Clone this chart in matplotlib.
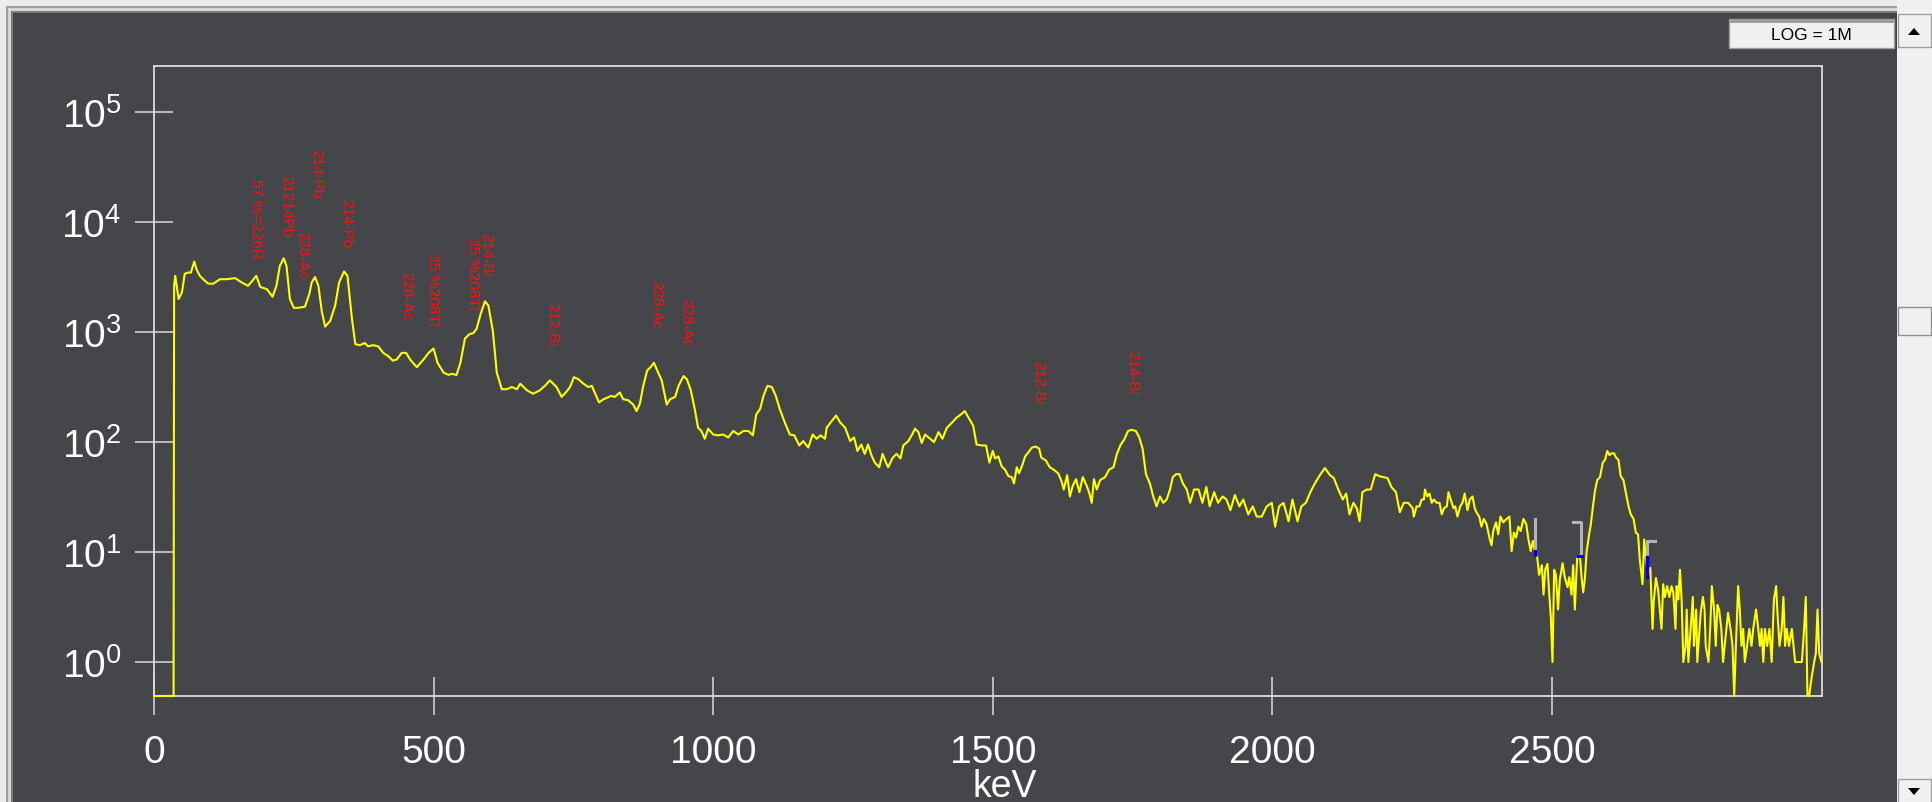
import numpy as np
import matplotlib
matplotlib.use('Agg')
import matplotlib.pyplot as plt
from matplotlib.patches import Rectangle, Polygon
from matplotlib.ticker import FixedLocator, FixedFormatter, NullLocator

plt.rcParams['font.family'] = ['Liberation Sans Narrow', 'Liberation Sans', 'DejaVu Sans']

# ---------------- data ----------------
energy_a = [0, 35, 36, 38, 44, 50, 55, 61, 66, 72, 76, 82, 88, 97, 106, 118, 130, 145, 157, 168,
            175, 183, 190, 202, 212, 219, 225, 232, 237, 243, 250, 258, 270, 278, 282, 288, 294, 300, 306, 315,
            324, 331, 340, 346, 354, 360, 368, 377, 383, 392, 401, 410, 419, 427, 434, 443, 451, 458, 470, 482,
            491, 500, 507, 518, 527, 532, 541, 548, 556, 564, 571, 577, 584, 592, 598, 606, 613, 622, 631, 640,
            649, 655, 667, 678, 690, 699, 708, 720, 729, 738]
counts_a = [0, 0, 2630, 3240, 1995, 2290, 3390, 3470, 3470, 4370, 3720, 3240, 3020, 2750, 2750, 3020, 3020, 3090, 2820, 2630,
            2880, 3240, 2570, 2450, 2090, 2630, 3980, 4680, 3980, 1995, 1660, 1660, 1700, 2240, 2820, 3160, 2630, 1550, 1120, 1260,
            1740, 2820, 3550, 3240, 1320, 776, 759, 794, 741, 759, 741, 646, 603, 550, 562, 646, 646, 562, 479, 562,
            646, 708, 525, 427, 407, 417, 407, 525, 871, 955, 977, 1070, 1450, 1905, 1740, 1023, 427, 302, 302, 316,
            302, 339, 295, 275, 295, 324, 363, 316, 257, 288]

energy_b = [744, 751, 759, 768, 777, 783, 789, 796, 804, 809, 818, 824, 833, 839, 848, 857, 863, 869, 875, 882,
            888, 894, 900, 908, 917, 923, 932, 938, 947, 953, 960, 967, 973, 979, 985, 991, 1000, 1009, 1018, 1027,
            1036, 1045, 1054, 1063, 1071, 1077, 1084, 1090, 1097, 1105, 1112, 1119, 1128, 1137, 1145, 1154, 1161, 1170, 1178, 1185,
            1192, 1200, 1203, 1212, 1220, 1227, 1236, 1245, 1252, 1258, 1265, 1271, 1277, 1283, 1289, 1297, 1303, 1309, 1313, 1321,
            1328, 1335, 1340, 1349, 1355, 1361, 1367, 1373, 1379, 1388, 1395, 1403, 1410, 1418, 1426, 1435, 1443, 1450, 1458, 1465,
            1471, 1480, 1488, 1494]
counts_b = [316, 389, 372, 339, 316, 324, 275, 229, 245, 251, 263, 257, 282, 245, 240, 219, 191, 224, 324, 447,
            479, 525, 447, 363, 219, 245, 257, 324, 398, 372, 295, 200, 135, 126, 107, 132, 117, 115, 117, 110,
            126, 117, 126, 126, 115, 178, 200, 263, 324, 316, 263, 200, 151, 117, 115, 93, 102, 89, 117, 107,
            115, 107, 135, 155, 174, 151, 135, 102, 110, 83, 95, 78, 95, 76, 65, 59, 78, 65, 59, 72,
            78, 71, 93, 102, 115, 132, 123, 98, 117, 107, 100, 123, 107, 135, 148, 166, 178, 191, 162, 141,
            95, 93, 93, 65]

energy_c = [1500, 1504, 1510, 1516, 1522, 1528, 1534, 1538, 1543, 1547, 1552, 1558, 1564, 1570, 1577, 1583, 1587, 1595, 1602, 1609,
            1617, 1623, 1627, 1633, 1638, 1643, 1649, 1655, 1661, 1668, 1673, 1677, 1681, 1686, 1692, 1701, 1708, 1716, 1722, 1729,
            1735, 1742, 1748, 1756, 1762, 1768, 1774, 1781, 1787, 1793, 1799, 1805, 1811, 1817, 1822, 1828, 1834, 1840, 1847, 1853,
            1860, 1868, 1875, 1882, 1888, 1896, 1903, 1911, 1918, 1925, 1933, 1941, 1948, 1957, 1965, 1972, 1981, 1990, 1999, 2005,
            2012, 2020, 2029, 2036, 2045, 2052, 2060, 2068, 2076, 2085, 2094, 2103, 2110, 2118, 2126, 2132, 2138, 2145, 2151, 2156,
            2161, 2169, 2176, 2184, 2191, 2198, 2206, 2213, 2221, 2228, 2235, 2243]
counts_c = [83, 71, 74, 60, 56, 49, 48, 42, 59, 52, 60, 74, 81, 89, 91, 87, 72, 68, 59, 56,
            52, 44, 37, 50, 32, 40, 46, 35, 48, 40, 34, 28, 46, 37, 45, 48, 56, 59, 78, 95,
            105, 126, 129, 126, 110, 87, 51, 42, 32, 26, 32, 28, 30, 37, 48, 51, 51, 42, 37, 28,
            37, 37, 28, 39, 26, 35, 28, 32, 30, 24, 33, 26, 30, 22, 26, 21, 21, 26, 28, 17,
            26, 28, 19, 30, 19, 26, 28, 35, 42, 50, 58, 50, 47, 37, 30, 34, 22, 28, 25, 19,
            35, 37, 37, 51, 49, 48, 47, 39, 35, 23, 28, 28]

energy_d = [2251, 2253, 2258, 2263, 2267, 2271, 2273, 2277, 2281, 2285, 2289, 2294, 2299, 2303, 2307, 2312, 2315, 2319, 2324, 2327,
            2331, 2336, 2340, 2344, 2349, 2353, 2358, 2362, 2365, 2370, 2374, 2378, 2383, 2389, 2392, 2395, 2400, 2404, 2408, 2413,
            2419, 2424, 2428, 2432, 2436, 2440, 2444, 2449, 2454, 2458, 2462, 2466, 2470, 2474, 2477, 2482, 2485, 2488, 2492, 2495,
            2498, 2501, 2504, 2507, 2511, 2514, 2519, 2523, 2528, 2531, 2535, 2538, 2541, 2545, 2550, 2553, 2556, 2559, 2562]
counts_d = [25, 21, 26, 26, 30, 30, 37, 32, 34, 28, 30, 28, 28, 22, 25, 26, 35, 30, 25, 26,
            21, 26, 28, 34, 24, 30, 32, 25, 23, 21, 17, 20, 18, 13, 11.5, 15.5, 18.6, 14.5, 21, 18.6,
            20, 21, 10.2, 15, 13.5, 17, 15.5, 20, 18, 13, 10.2, 12.6, 10, 8.7, 6.2, 7.6, 4.1, 6.9, 7.8, 4.3,
            2.6, 1, 6.9, 6.2, 3, 5.5, 7.9, 5.9, 4.8, 5.9, 4.1, 7.6, 3, 8.7, 9.3, 5.9, 4.3, 5.8, 10]

energy_e = [2567, 2569, 2573, 2577, 2581, 2586, 2591, 2595, 2599, 2603, 2607, 2611, 2615, 2619, 2623, 2628, 2632, 2637, 2641, 2646,
            2650, 2654, 2657, 2662, 2665, 2668, 2672, 2676, 2680, 2682, 2686, 2690, 2693, 2696, 2699, 2702, 2706, 2710, 2714, 2717,
            2721, 2723, 2726, 2729, 2732, 2735, 2739, 2741, 2744, 2748, 2752, 2754, 2758, 2760, 2764, 2766, 2770, 2773, 2775, 2780,
            2783, 2786, 2790, 2793, 2796, 2799, 2803, 2806, 2809, 2812, 2815, 2820, 2823, 2826, 2829, 2833, 2836, 2839, 2842, 2845,
            2849, 2853, 2857, 2860, 2865, 2869, 2872, 2875, 2878, 2881, 2885, 2889, 2893, 2897, 2901, 2903, 2907, 2911, 2914, 2917,
            2920, 2924, 2929, 2932, 2935, 2947, 2951, 2954, 2957, 2960, 2964, 2969, 2972, 2975, 2978, 2982]
counts_e = [15, 17, 25, 36, 45, 48, 65, 69, 83, 76, 79, 79, 72, 69, 49, 45, 35, 26, 22, 20,
            15, 14.5, 8.7, 5.1, 13, 8.7, 6.2, 7.2, 2, 3.5, 5.8, 4.5, 3, 2, 5.1, 3.9, 4.9, 3.9, 4.9, 4.3,
            2, 4.9, 3.7, 6.9, 3.6, 1, 1.4, 3, 1, 2, 3.9, 1.4, 3, 1, 2, 2.8, 3.9, 3, 1.4, 1,
            2, 4.9, 3, 1.4, 3.3, 3, 2, 1, 1.4, 2, 2.8, 1.9, 1.4, 0, 1.4, 4.9, 3, 1.4, 2, 1,
            1.4, 2, 1.4, 2, 3, 2, 1.4, 2, 1, 2, 1.4, 2, 1, 3.7, 4.9, 3, 1.4, 2, 3.9, 1.4,
            2, 1.4, 2, 1.4, 1, 1, 2, 3.9, 0, 0, 0.7, 1, 1.2, 3, 1.2, 1]

x_ticks = [0, 500, 1000, 1500, 2000, 2500]
x_tick_labels = ['0', '500', '1000', '1500', '2000', '2500']
y_ticks = [1, 10, 100, 1000, 10000, 100000]
y_tick_labels = [r'$\mathdefault{10^{0}}$', r'$\mathdefault{10^{1}}$', r'$\mathdefault{10^{2}}$',
                 r'$\mathdefault{10^{3}}$', r'$\mathdefault{10^{4}}$', r'$\mathdefault{10^{5}}$']

peak_text = ['57 %=226R', '21214Pb', '214-Pb', '228-Ac', '214-Pb', '228-Ac', '35 %208Tl',
             '35 %208Tl', '214-Bi', '212-Bi', '228-Ac', '228-Ac', '212-Bi', '214-Bi']
peak_text_energy = [182, 236, 290, 266, 343, 452, 499, 570, 595, 713, 898, 951, 1581, 1749]
peak_text_top = [25100, 26900, 46800, 8510, 16600, 3550, 5370, 7410, 8130, 1860, 2950, 2040, 562, 692]

# ROI markers (grey brackets, blue cursors)
roi1_e, roi1_c = [2470, 2470], [20, 10]
roi2_e, roi2_c = [2538, 2552, 2552], [18.7, 18.7, 9.2]
roi3_e, roi3_c = [2684, 2670, 2670], [12.6, 12.6, 9.0]
blue1_e, blue1_c = [2470, 2470], [10.2, 9.4]
blue2_e, blue2_c = [2546, 2553], [9.2, 9.2]
blue3_e, blue3_c = [2670, 2670], [9.0, 5.9]

energy = np.array(energy_a + energy_b + energy_c + energy_d + energy_e, dtype=float)
counts = np.array(counts_a + counts_b + counts_c + counts_d + counts_e, dtype=float)
assert len(energy) == len(counts)

# ---------------- figure ----------------
W, H = 1932, 803
YMIN, YMAX = 0.491, 2.62e5
XMAX = 2983
BG = '#45464a'
FRAME = '#dcdcdc'

fig = plt.figure(figsize=(W / 100, H / 100), dpi=100)
fig.patch.set_facecolor(BG)


def px_rect(x0, y0, x1, y1, **kw):
    r = Rectangle((x0 / W, 1 - y1 / H), (x1 - x0) / W, (y1 - y0) / H,
                  transform=fig.transFigure, **kw)
    fig.add_artist(r)
    return r


def px_poly(pts, **kw):
    p = Polygon([(x / W, 1 - y / H) for x, y in pts], closed=True,
                transform=fig.transFigure, **kw)
    fig.add_artist(p)
    return p


# window chrome
px_rect(0, 0, W, 7, fc='#ececec', ec='none')
px_rect(0, 7, W, 9, fc='#a0a0a0', ec='none')
px_rect(0, 9, W, 12, fc='#d6d6d6', ec='none')
px_rect(0, 12, W, 14, fc='#7a7a7a', ec='none')
px_rect(0, 0, 6, H, fc='#ececec', ec='none')
px_rect(6, 9, 8, H, fc='#a0a0a0', ec='none')
px_rect(8, 12, 11, H, fc='#d6d6d6', ec='none')
px_rect(11, 14, 13, H, fc='#7a7a7a', ec='none')

# scrollbar
px_rect(1897, 0, W, H, fc='#f0f0f0', ec='none')
px_rect(1898, 15, 1931, 48, fc='#f0f0f0', ec='#a0a0a0', lw=1.0)
px_poly([(1908, 36), (1920, 36), (1914, 29)], fc='black', ec='none')
px_rect(1898, 308, 1931, 336, fc='#f0f0f0', ec='#909090', lw=1.0)
px_rect(1898, 780, 1931, 805, fc='#f0f0f0', ec='#a0a0a0', lw=1.0)
px_poly([(1908, 789), (1920, 789), (1914, 796)], fc='black', ec='none')

# LOG button
px_rect(1729, 20, 1894, 49, fc='#f0f0f0', ec='#a0a0a0', lw=1.0)
px_rect(1729, 20, 1894, 24, fc='#9a9a9a', ec='none')
fig.text(1811 / W, 1 - 36 / H, 'LOG = 1M', ha='center', va='center', fontsize=12.5, color='black')

# axes
ax = fig.add_axes([154 / W, 1 - 697 / H, (1822 - 154) / W, (697 - 67) / H])
ax.set_facecolor(BG)
ax.plot(energy, np.clip(counts, YMIN, None), color='#ffff00', lw=1.5, clip_on=False, zorder=3)

ax.plot(roi1_e, roi1_c, color='#b4b4b4', lw=2.2, zorder=4)
ax.plot(roi2_e, roi2_c, color='#b4b4b4', lw=2.2, zorder=4)
ax.plot(roi3_e, roi3_c, color='#b4b4b4', lw=2.2, zorder=4)
ax.plot(blue1_e, blue1_c, color='#0000ff', lw=2.2, zorder=5)
ax.plot(blue2_e, blue2_c, color='#0000ff', lw=2.2, zorder=5)
ax.plot(blue3_e, blue3_c, color='#0000ff', lw=2.5, zorder=5)

ax.set_yscale('log')
ax.set_xlim(0, XMAX)
ax.set_ylim(YMIN, YMAX)

for s in ax.spines.values():
    s.set_color(FRAME)
    s.set_linewidth(1.3)

ax.xaxis.set_major_locator(FixedLocator(x_ticks))
ax.xaxis.set_major_formatter(FixedFormatter(x_tick_labels))
ax.yaxis.set_major_locator(FixedLocator(y_ticks))
ax.yaxis.set_major_formatter(FixedFormatter(y_tick_labels))
ax.yaxis.set_minor_locator(NullLocator())
ax.xaxis.set_minor_locator(NullLocator())
ax.tick_params(axis='both', which='major', direction='inout', length=27, width=1.1,
               color=FRAME, labelcolor='white', labelsize=28)
ax.tick_params(axis='x', pad=14)
ax.tick_params(axis='y', pad=10)

ax.set_xlabel('keV', color='white', fontsize=27)
ax.xaxis.set_label_coords(0.51, -0.114)

for txt, e, c in zip(peak_text, peak_text_energy, peak_text_top):
    ax.text(e, c, txt, rotation=-90, rotation_mode='anchor', ha='left', va='center',
            color='#ff1010', fontsize=11)

fig.savefig('out.png', dpi=100, facecolor=fig.get_facecolor())
